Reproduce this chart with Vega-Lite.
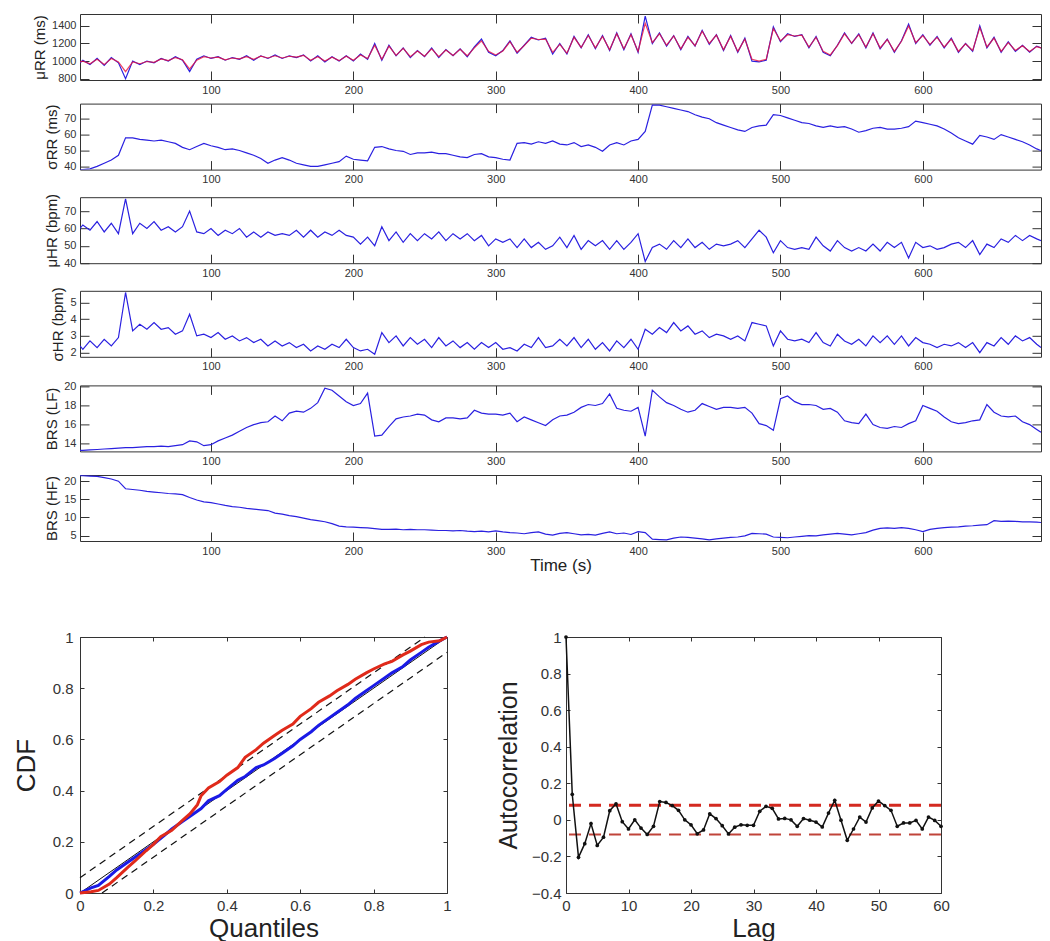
{
"$schema": "https://vega.github.io/schema/vega-lite/v6.json",
"padding": {"left": 12, "top": 13, "right": 2, "bottom": 0},
"background": "white",
"config": {
  "font": "Liberation Sans",
  "view": {"stroke": "#333", "strokeWidth": 1},
  "axis": {"domain": false, "grid": false, "tickSize": -9, "tickColor": "#333", "tickWidth": 1, "labelFontSize": 11, "labelColor": "#333", "labelPadding": 4, "labelFlush": false, "labelOverlap": false, "labelBound": false, "titleFontSize": 15, "titleFontWeight": "normal", "titleColor": "#222", "titlePadding": 4}
},
"datasets": {
"ts": [
{"t":8,"mb":980,"mr":990,"s":38,"h":60,"hs":2.4,"lf":13.3,"hf":21.5},
{"t":10,"mb":1010,"mr":1000,"s":38,"h":62,"hs":2.2,"lf":13.3,"hf":21.5},
{"t":15,"mb":960,"mr":970,"s":38.5,"h":59,"hs":2.7,"lf":13.35,"hf":21.4},
{"t":20,"mb":1030,"mr":1020,"s":40,"h":64,"hs":2.3,"lf":13.4,"hf":21.3},
{"t":25,"mb":950,"mr":960,"s":42,"h":58,"hs":2.8,"lf":13.45,"hf":21.0},
{"t":30,"mb":1040,"mr":1030,"s":44,"h":63,"hs":2.4,"lf":13.5,"hf":20.6},
{"t":35,"mb":980,"mr":990,"s":47,"h":57,"hs":2.9,"lf":13.55,"hf":20.0},
{"t":40,"mb":800,"mr":880,"s":58,"h":77,"hs":5.6,"lf":13.6,"hf":17.9},
{"t":45,"mb":1000,"mr":990,"s":58,"h":57,"hs":3.3,"lf":13.6,"hf":17.7},
{"t":50,"mb":960,"mr":970,"s":57,"h":63,"hs":3.7,"lf":13.65,"hf":17.5},
{"t":55,"mb":1000,"mr":995,"s":56.5,"h":60,"hs":3.4,"lf":13.7,"hf":17.2},
{"t":60,"mb":980,"mr":985,"s":56,"h":64,"hs":3.8,"lf":13.7,"hf":17.0},
{"t":65,"mb":1030,"mr":1025,"s":56.5,"h":59,"hs":3.4,"lf":13.75,"hf":16.8},
{"t":70,"mb":1000,"mr":1005,"s":55.5,"h":61,"hs":3.5,"lf":13.7,"hf":16.6},
{"t":75,"mb":1050,"mr":1040,"s":54.5,"h":58,"hs":3.1,"lf":13.8,"hf":16.5},
{"t":80,"mb":1010,"mr":1015,"s":52,"h":61,"hs":3.3,"lf":13.9,"hf":16.3},
{"t":85,"mb":880,"mr":910,"s":50.5,"h":70,"hs":4.3,"lf":14.3,"hf":15.5},
{"t":90,"mb":1020,"mr":1010,"s":52.5,"h":58,"hs":3.0,"lf":14.2,"hf":14.8},
{"t":95,"mb":1060,"mr":1050,"s":54.5,"h":57,"hs":3.1,"lf":13.8,"hf":14.3},
{"t":100,"mb":1030,"mr":1035,"s":53,"h":60,"hs":2.9,"lf":13.9,"hf":14.1},
{"t":105,"mb":1050,"mr":1045,"s":52,"h":56,"hs":3.2,"lf":14.3,"hf":13.7},
{"t":110,"mb":1010,"mr":1015,"s":50.5,"h":59,"hs":2.8,"lf":14.6,"hf":13.3},
{"t":115,"mb":1040,"mr":1035,"s":51,"h":57,"hs":3.0,"lf":14.9,"hf":13.0},
{"t":120,"mb":1020,"mr":1025,"s":50,"h":60,"hs":2.7,"lf":15.3,"hf":12.8},
{"t":125,"mb":1060,"mr":1050,"s":48.5,"h":55,"hs":2.9,"lf":15.7,"hf":12.5},
{"t":130,"mb":1010,"mr":1020,"s":47,"h":58,"hs":2.6,"lf":16.0,"hf":12.3},
{"t":135,"mb":1060,"mr":1055,"s":45,"h":55,"hs":2.8,"lf":16.2,"hf":12.1},
{"t":140,"mb":1030,"mr":1035,"s":42,"h":58,"hs":2.4,"lf":16.3,"hf":11.9},
{"t":145,"mb":1070,"mr":1060,"s":44,"h":56,"hs":2.7,"lf":16.9,"hf":11.2},
{"t":150,"mb":1030,"mr":1035,"s":45.5,"h":57,"hs":2.4,"lf":16.4,"hf":10.9},
{"t":155,"mb":1060,"mr":1055,"s":44,"h":56,"hs":2.6,"lf":17.2,"hf":10.5},
{"t":160,"mb":1040,"mr":1045,"s":42,"h":59,"hs":2.3,"lf":17.4,"hf":10.2},
{"t":165,"mb":1070,"mr":1065,"s":41,"h":55,"hs":2.5,"lf":17.3,"hf":9.8},
{"t":170,"mb":1000,"mr":1010,"s":40,"h":59,"hs":2.1,"lf":17.7,"hf":9.4},
{"t":175,"mb":1060,"mr":1050,"s":40,"h":55,"hs":2.4,"lf":18.3,"hf":9.1},
{"t":180,"mb":990,"mr":1000,"s":41,"h":58,"hs":2.2,"lf":19.8,"hf":8.8},
{"t":185,"mb":1050,"mr":1045,"s":42,"h":56,"hs":2.5,"lf":19.6,"hf":8.3},
{"t":190,"mb":1000,"mr":1005,"s":43,"h":59,"hs":2.3,"lf":19.0,"hf":7.6},
{"t":195,"mb":1060,"mr":1055,"s":46.5,"h":56,"hs":2.8,"lf":18.4,"hf":7.4},
{"t":200,"mb":1000,"mr":1010,"s":44.5,"h":55,"hs":2.3,"lf":18.0,"hf":7.3},
{"t":205,"mb":1080,"mr":1070,"s":44,"h":51,"hs":2.1,"lf":18.2,"hf":7.2},
{"t":210,"mb":1020,"mr":1030,"s":43.5,"h":55,"hs":2.2,"lf":19.3,"hf":7.1},
{"t":215,"mb":1200,"mr":1180,"s":52,"h":50,"hs":1.9,"lf":14.8,"hf":6.9},
{"t":220,"mb":1010,"mr":1020,"s":52.5,"h":61,"hs":3.2,"lf":14.9,"hf":6.7},
{"t":225,"mb":1180,"mr":1170,"s":51,"h":53,"hs":2.6,"lf":15.8,"hf":6.7},
{"t":230,"mb":1060,"mr":1065,"s":50,"h":58,"hs":3.0,"lf":16.6,"hf":6.8},
{"t":235,"mb":1150,"mr":1145,"s":49.5,"h":52,"hs":2.4,"lf":16.8,"hf":6.6},
{"t":240,"mb":1040,"mr":1050,"s":47.5,"h":57,"hs":2.9,"lf":16.9,"hf":6.7},
{"t":245,"mb":1120,"mr":1115,"s":48.5,"h":53,"hs":2.5,"lf":17.1,"hf":6.6},
{"t":250,"mb":1050,"mr":1055,"s":48.5,"h":57,"hs":2.8,"lf":17.0,"hf":6.6},
{"t":255,"mb":1150,"mr":1140,"s":49,"h":54,"hs":2.3,"lf":16.5,"hf":6.5},
{"t":260,"mb":1040,"mr":1050,"s":48,"h":58,"hs":2.9,"lf":16.3,"hf":6.4},
{"t":265,"mb":1130,"mr":1125,"s":48,"h":53,"hs":2.4,"lf":16.7,"hf":6.4},
{"t":270,"mb":1060,"mr":1065,"s":47,"h":57,"hs":2.7,"lf":16.7,"hf":6.3},
{"t":275,"mb":1140,"mr":1135,"s":46,"h":54,"hs":2.3,"lf":16.6,"hf":6.4},
{"t":280,"mb":1050,"mr":1060,"s":45.5,"h":57,"hs":2.6,"lf":16.7,"hf":6.2},
{"t":285,"mb":1160,"mr":1150,"s":47.5,"h":53,"hs":2.2,"lf":17.5,"hf":6.1},
{"t":290,"mb":1250,"mr":1230,"s":48,"h":56,"hs":2.6,"lf":17.2,"hf":6.2},
{"t":295,"mb":1100,"mr":1110,"s":46,"h":50,"hs":2.3,"lf":17.1,"hf":6.0},
{"t":300,"mb":1060,"mr":1070,"s":45.5,"h":54,"hs":2.6,"lf":17.1,"hf":6.3},
{"t":305,"mb":1120,"mr":1115,"s":44.5,"h":52,"hs":2.2,"lf":17.0,"hf":6.0},
{"t":310,"mb":1230,"mr":1220,"s":44,"h":54,"hs":2.3,"lf":17.2,"hf":5.8},
{"t":315,"mb":1090,"mr":1100,"s":54.5,"h":49,"hs":2.1,"lf":16.3,"hf":5.7},
{"t":320,"mb":1180,"mr":1175,"s":55,"h":54,"hs":2.5,"lf":16.8,"hf":5.5},
{"t":325,"mb":1270,"mr":1260,"s":54,"h":49,"hs":2.3,"lf":16.5,"hf":5.8},
{"t":330,"mb":1240,"mr":1245,"s":55.5,"h":52,"hs":2.9,"lf":16.2,"hf":6.0},
{"t":335,"mb":1260,"mr":1250,"s":54.5,"h":48,"hs":2.3,"lf":15.9,"hf":5.4},
{"t":340,"mb":1080,"mr":1100,"s":56,"h":50,"hs":2.4,"lf":16.5,"hf":5.1},
{"t":345,"mb":1200,"mr":1190,"s":54,"h":55,"hs":2.8,"lf":16.9,"hf":5.6},
{"t":350,"mb":1080,"mr":1090,"s":53.5,"h":49,"hs":2.4,"lf":17.0,"hf":5.8},
{"t":355,"mb":1280,"mr":1270,"s":55,"h":56,"hs":2.9,"lf":17.3,"hf":5.5},
{"t":360,"mb":1150,"mr":1155,"s":52.5,"h":48,"hs":2.3,"lf":17.8,"hf":5.2},
{"t":365,"mb":1300,"mr":1290,"s":53.5,"h":53,"hs":2.8,"lf":18.1,"hf":5.3},
{"t":370,"mb":1140,"mr":1150,"s":52,"h":50,"hs":2.2,"lf":18.0,"hf":5.1},
{"t":375,"mb":1290,"mr":1280,"s":49.5,"h":53,"hs":2.6,"lf":18.2,"hf":5.6},
{"t":380,"mb":1120,"mr":1130,"s":53.5,"h":48,"hs":2.1,"lf":19.2,"hf":6.0},
{"t":385,"mb":1320,"mr":1310,"s":55,"h":53,"hs":2.7,"lf":17.7,"hf":5.5},
{"t":390,"mb":1130,"mr":1140,"s":53.5,"h":48,"hs":2.3,"lf":17.5,"hf":5.7},
{"t":395,"mb":1310,"mr":1300,"s":56,"h":52,"hs":2.8,"lf":17.4,"hf":5.3},
{"t":400,"mb":1100,"mr":1110,"s":57,"h":57,"hs":2.2,"lf":17.8,"hf":6.1},
{"t":405,"mb":1510,"mr":1430,"s":62,"h":41,"hs":3.4,"lf":14.8,"hf":5.8},
{"t":410,"mb":1200,"mr":1210,"s":78.5,"h":49,"hs":3.1,"lf":19.6,"hf":4.0},
{"t":415,"mb":1320,"mr":1310,"s":78.5,"h":51,"hs":3.5,"lf":18.9,"hf":3.9},
{"t":420,"mb":1170,"mr":1180,"s":77.5,"h":48,"hs":3.2,"lf":18.3,"hf":3.8},
{"t":425,"mb":1290,"mr":1285,"s":76.5,"h":53,"hs":3.8,"lf":18.0,"hf":4.3},
{"t":430,"mb":1130,"mr":1140,"s":75.5,"h":49,"hs":3.3,"lf":17.6,"hf":4.6},
{"t":435,"mb":1280,"mr":1270,"s":74.5,"h":54,"hs":3.6,"lf":17.3,"hf":4.5},
{"t":440,"mb":1170,"mr":1175,"s":72.5,"h":49,"hs":3.1,"lf":17.5,"hf":4.3},
{"t":445,"mb":1350,"mr":1340,"s":71,"h":52,"hs":3.3,"lf":18.2,"hf":4.1},
{"t":450,"mb":1190,"mr":1200,"s":70,"h":48,"hs":2.9,"lf":17.9,"hf":3.8},
{"t":455,"mb":1300,"mr":1295,"s":67.5,"h":51,"hs":3.1,"lf":17.6,"hf":4.1},
{"t":460,"mb":1120,"mr":1130,"s":66,"h":50,"hs":3.0,"lf":17.8,"hf":4.3},
{"t":465,"mb":1290,"mr":1280,"s":64.5,"h":51,"hs":2.8,"lf":17.8,"hf":4.5},
{"t":470,"mb":1100,"mr":1110,"s":63,"h":53,"hs":3.0,"lf":17.7,"hf":4.6},
{"t":475,"mb":1260,"mr":1250,"s":62,"h":49,"hs":2.7,"lf":17.8,"hf":4.9},
{"t":480,"mb":1000,"mr":1020,"s":64.5,"h":54,"hs":3.8,"lf":17.2,"hf":5.6},
{"t":485,"mb":990,"mr":1000,"s":65.5,"h":59,"hs":3.7,"lf":16.1,"hf":5.5},
{"t":490,"mb":1010,"mr":1020,"s":66,"h":55,"hs":3.6,"lf":15.9,"hf":5.4},
{"t":495,"mb":1390,"mr":1370,"s":72.5,"h":46,"hs":2.4,"lf":15.4,"hf":4.6},
{"t":500,"mb":1220,"mr":1230,"s":72,"h":53,"hs":3.3,"lf":18.7,"hf":4.5},
{"t":505,"mb":1310,"mr":1300,"s":70.5,"h":49,"hs":2.8,"lf":19.0,"hf":4.4},
{"t":510,"mb":1280,"mr":1285,"s":69,"h":48,"hs":2.7,"lf":18.4,"hf":4.6},
{"t":515,"mb":1300,"mr":1295,"s":67.5,"h":49,"hs":2.8,"lf":18.1,"hf":4.8},
{"t":520,"mb":1150,"mr":1160,"s":67,"h":48,"hs":2.6,"lf":18.1,"hf":5.0},
{"t":525,"mb":1280,"mr":1270,"s":65.5,"h":55,"hs":3.2,"lf":18.0,"hf":4.9},
{"t":530,"mb":1100,"mr":1110,"s":64.5,"h":50,"hs":2.6,"lf":17.6,"hf":5.2},
{"t":535,"mb":1060,"mr":1070,"s":65.5,"h":47,"hs":2.4,"lf":17.7,"hf":5.4},
{"t":540,"mb":1180,"mr":1175,"s":64.5,"h":53,"hs":3.1,"lf":17.3,"hf":5.6},
{"t":545,"mb":1320,"mr":1310,"s":65,"h":49,"hs":2.7,"lf":16.4,"hf":5.4},
{"t":550,"mb":1200,"mr":1205,"s":63.5,"h":47,"hs":2.5,"lf":16.2,"hf":5.2},
{"t":555,"mb":1310,"mr":1300,"s":61.5,"h":49,"hs":2.8,"lf":16.1,"hf":5.5},
{"t":560,"mb":1150,"mr":1160,"s":62.5,"h":47,"hs":2.4,"lf":17.1,"hf":5.8},
{"t":565,"mb":1320,"mr":1310,"s":64,"h":51,"hs":3.0,"lf":16.0,"hf":6.5},
{"t":570,"mb":1140,"mr":1150,"s":64.5,"h":47,"hs":2.6,"lf":15.7,"hf":7.0},
{"t":575,"mb":1250,"mr":1245,"s":63.5,"h":52,"hs":3.0,"lf":15.6,"hf":7.1},
{"t":580,"mb":1100,"mr":1110,"s":63.5,"h":49,"hs":2.5,"lf":15.8,"hf":7.0},
{"t":585,"mb":1230,"mr":1225,"s":64,"h":52,"hs":3.0,"lf":15.7,"hf":7.2},
{"t":590,"mb":1420,"mr":1400,"s":65,"h":43,"hs":2.4,"lf":16.1,"hf":7.0},
{"t":595,"mb":1200,"mr":1210,"s":68.5,"h":52,"hs":2.9,"lf":16.4,"hf":6.6},
{"t":600,"mb":1300,"mr":1290,"s":67.5,"h":49,"hs":2.6,"lf":18.0,"hf":6.1},
{"t":605,"mb":1180,"mr":1190,"s":66.5,"h":50,"hs":2.5,"lf":17.7,"hf":6.7},
{"t":610,"mb":1280,"mr":1270,"s":65.5,"h":48,"hs":2.3,"lf":17.4,"hf":7.0},
{"t":615,"mb":1150,"mr":1160,"s":63.5,"h":49,"hs":2.5,"lf":16.8,"hf":7.2},
{"t":620,"mb":1260,"mr":1250,"s":61,"h":51,"hs":2.4,"lf":16.3,"hf":7.3},
{"t":625,"mb":1100,"mr":1110,"s":58,"h":52,"hs":2.6,"lf":16.1,"hf":7.4},
{"t":630,"mb":1200,"mr":1195,"s":56,"h":49,"hs":2.3,"lf":16.2,"hf":7.6},
{"t":635,"mb":1110,"mr":1120,"s":54,"h":53,"hs":2.6,"lf":16.4,"hf":7.7},
{"t":640,"mb":1400,"mr":1380,"s":59.5,"h":45,"hs":2.0,"lf":16.5,"hf":7.9},
{"t":645,"mb":1150,"mr":1160,"s":58.5,"h":51,"hs":2.6,"lf":18.1,"hf":8.0},
{"t":650,"mb":1270,"mr":1260,"s":57,"h":49,"hs":2.4,"lf":17.3,"hf":9.1},
{"t":655,"mb":1100,"mr":1110,"s":60,"h":54,"hs":2.9,"lf":16.9,"hf":8.9},
{"t":660,"mb":1220,"mr":1210,"s":58.5,"h":52,"hs":2.5,"lf":16.8,"hf":9.0},
{"t":665,"mb":1110,"mr":1120,"s":57,"h":56,"hs":3.0,"lf":16.9,"hf":8.9},
{"t":670,"mb":1180,"mr":1175,"s":55.5,"h":53,"hs":2.7,"lf":16.3,"hf":8.8},
{"t":675,"mb":1100,"mr":1110,"s":53.5,"h":56,"hs":2.9,"lf":16.0,"hf":8.8},
{"t":680,"mb":1170,"mr":1165,"s":51,"h":54,"hs":2.5,"lf":15.5,"hf":8.7},
{"t":683,"mb":1150,"mr":1150,"s":50,"h":53,"hs":2.3,"lf":15.2,"hf":8.6}
],
"ks": [
{"x":0,"y":0,"g":"d"},{"x":1,"y":1,"g":"d"},
{"x":0,"y":0.06,"g":"u"},{"x":0.94,"y":1,"g":"u"},
{"x":0.06,"y":0,"g":"l"},{"x":1,"y":0.94,"g":"l"},
{"x":0,"y":0,"g":"b"},{"x":0.03,"y":0.02,"g":"b"},{"x":0.05,"y":0.03,"g":"b"},{"x":0.08,"y":0.065,"g":"b"},{"x":0.1,"y":0.09,"g":"b"},{"x":0.13,"y":0.12,"g":"b"},{"x":0.15,"y":0.14,"g":"b"},{"x":0.18,"y":0.17,"g":"b"},{"x":0.2,"y":0.19,"g":"b"},{"x":0.23,"y":0.225,"g":"b"},{"x":0.25,"y":0.25,"g":"b"},{"x":0.28,"y":0.28,"g":"b"},{"x":0.3,"y":0.3,"g":"b"},{"x":0.33,"y":0.33,"g":"b"},{"x":0.35,"y":0.36,"g":"b"},{"x":0.38,"y":0.38,"g":"b"},{"x":0.4,"y":0.405,"g":"b"},{"x":0.43,"y":0.44,"g":"b"},{"x":0.45,"y":0.455,"g":"b"},{"x":0.48,"y":0.49,"g":"b"},{"x":0.5,"y":0.5,"g":"b"},{"x":0.53,"y":0.525,"g":"b"},{"x":0.55,"y":0.545,"g":"b"},{"x":0.58,"y":0.575,"g":"b"},{"x":0.6,"y":0.6,"g":"b"},{"x":0.63,"y":0.63,"g":"b"},{"x":0.65,"y":0.655,"g":"b"},{"x":0.68,"y":0.685,"g":"b"},{"x":0.7,"y":0.705,"g":"b"},{"x":0.73,"y":0.735,"g":"b"},{"x":0.75,"y":0.76,"g":"b"},{"x":0.78,"y":0.79,"g":"b"},{"x":0.8,"y":0.81,"g":"b"},{"x":0.83,"y":0.84,"g":"b"},{"x":0.85,"y":0.86,"g":"b"},{"x":0.88,"y":0.885,"g":"b"},{"x":0.9,"y":0.91,"g":"b"},{"x":0.93,"y":0.94,"g":"b"},{"x":0.95,"y":0.96,"g":"b"},{"x":0.98,"y":0.985,"g":"b"},{"x":1,"y":1,"g":"b"},
{"x":0,"y":0,"g":"r"},{"x":0.03,"y":0.005,"g":"r"},{"x":0.05,"y":0.01,"g":"r"},{"x":0.08,"y":0.035,"g":"r"},{"x":0.1,"y":0.06,"g":"r"},{"x":0.13,"y":0.1,"g":"r"},{"x":0.15,"y":0.125,"g":"r"},{"x":0.18,"y":0.165,"g":"r"},{"x":0.2,"y":0.19,"g":"r"},{"x":0.22,"y":0.22,"g":"r"},{"x":0.25,"y":0.245,"g":"r"},{"x":0.28,"y":0.285,"g":"r"},{"x":0.3,"y":0.31,"g":"r"},{"x":0.32,"y":0.345,"g":"r"},{"x":0.33,"y":0.38,"g":"r"},{"x":0.35,"y":0.41,"g":"r"},{"x":0.38,"y":0.435,"g":"r"},{"x":0.4,"y":0.46,"g":"r"},{"x":0.43,"y":0.49,"g":"r"},{"x":0.45,"y":0.53,"g":"r"},{"x":0.48,"y":0.56,"g":"r"},{"x":0.5,"y":0.585,"g":"r"},{"x":0.53,"y":0.615,"g":"r"},{"x":0.55,"y":0.635,"g":"r"},{"x":0.58,"y":0.66,"g":"r"},{"x":0.6,"y":0.69,"g":"r"},{"x":0.63,"y":0.72,"g":"r"},{"x":0.65,"y":0.745,"g":"r"},{"x":0.68,"y":0.77,"g":"r"},{"x":0.7,"y":0.79,"g":"r"},{"x":0.73,"y":0.815,"g":"r"},{"x":0.75,"y":0.835,"g":"r"},{"x":0.78,"y":0.86,"g":"r"},{"x":0.8,"y":0.875,"g":"r"},{"x":0.83,"y":0.895,"g":"r"},{"x":0.85,"y":0.905,"g":"r"},{"x":0.88,"y":0.93,"g":"r"},{"x":0.9,"y":0.945,"g":"r"},{"x":0.93,"y":0.97,"g":"r"},{"x":0.95,"y":0.98,"g":"r"},{"x":0.98,"y":0.985,"g":"r"},{"x":1,"y":1,"g":"r"}
],
"acf": [
{"lag":0,"r":1.0},{"lag":1,"r":0.14},{"lag":2,"r":-0.205},{"lag":3,"r":-0.13},{"lag":4,"r":-0.02},{"lag":5,"r":-0.14},{"lag":6,"r":-0.095},{"lag":7,"r":0.05},{"lag":8,"r":0.088},{"lag":9,"r":-0.01},{"lag":10,"r":-0.05},{"lag":11,"r":0.0},{"lag":12,"r":-0.045},{"lag":13,"r":-0.08},{"lag":14,"r":-0.035},{"lag":15,"r":0.1},{"lag":16,"r":0.095},{"lag":17,"r":0.078},{"lag":18,"r":0.052},{"lag":19,"r":0.0},{"lag":20,"r":-0.027},{"lag":21,"r":-0.076},{"lag":22,"r":-0.055},{"lag":23,"r":0.033},{"lag":24,"r":0.007},{"lag":25,"r":-0.032},{"lag":26,"r":-0.077},{"lag":27,"r":-0.04},{"lag":28,"r":-0.027},{"lag":29,"r":-0.03},{"lag":30,"r":-0.03},{"lag":31,"r":0.047},{"lag":32,"r":0.074},{"lag":33,"r":0.063},{"lag":34,"r":0.005},{"lag":35,"r":0.008},{"lag":36,"r":0.0},{"lag":37,"r":-0.035},{"lag":38,"r":0.007},{"lag":39,"r":-0.002},{"lag":40,"r":-0.012},{"lag":41,"r":-0.039},{"lag":42,"r":0.037},{"lag":43,"r":0.107},{"lag":44,"r":-0.002},{"lag":45,"r":-0.112},{"lag":46,"r":-0.05},{"lag":47,"r":0.015},{"lag":48,"r":-0.012},{"lag":49,"r":0.065},{"lag":50,"r":0.103},{"lag":51,"r":0.078},{"lag":52,"r":0.052},{"lag":53,"r":-0.035},{"lag":54,"r":-0.017},{"lag":55,"r":-0.017},{"lag":56,"r":-0.003},{"lag":57,"r":-0.05},{"lag":58,"r":0.015},{"lag":59,"r":-0.003},{"lag":60,"r":-0.035}
],
"bounds": [{"b":0.08,"k":"upper"},{"b":-0.08,"k":"lower"}]
},
"align": "each",
"spacing": 55,
"vconcat": [
{
"align": "each",
"spacing": 6.6,
"vconcat": [
{"width": 961, "height": 66, "data": {"name": "ts"}, "resolve": {"axis": {"x": "independent", "y": "independent"}},
 "layer": [
  {"mark": {"type": "line", "color": "#2a20e0", "strokeWidth": 1.2, "clip": true},
   "encoding": {"x": {"field": "t", "type": "quantitative", "scale": {"domain": [8, 683], "nice": false, "zero": false}, "axis": {"values": [100,200,300,400,500,600], "format": "d", "ticks": false, "title": null}},
                "y": {"field": "mb", "type": "quantitative", "scale": {"domain": [785, 1535], "nice": false, "zero": false}, "axis": {"values": [800,1000,1200,1400], "format": "d", "ticks": false, "title": "μRR (ms)"}}}},
  {"mark": {"type": "line", "color": "#e8103c", "strokeWidth": 1.2, "clip": true, "opacity": 0.8},
   "encoding": {"x": {"field": "t", "type": "quantitative", "scale": {"domain": [8, 683], "nice": false, "zero": false}, "axis": {"orient": "top", "values": [100,200,300,400,500,600], "labels": false, "title": null}},
                "y": {"field": "mr", "type": "quantitative", "scale": {"domain": [785, 1535], "nice": false, "zero": false}, "axis": {"orient": "right", "values": [800,1000,1200,1400], "labels": false, "title": null}}}},
  {"mark": {"type": "line", "opacity": 0, "clip": true},
   "encoding": {"x": {"field": "t", "type": "quantitative", "axis": {"values": [100,200,300,400,500,600], "labels": false, "title": null}},
                "y": {"field": "mb", "type": "quantitative", "axis": {"values": [800,1000,1200,1400], "labels": false, "title": null}}}}
 ]},
{"width": 961, "height": 66, "data": {"name": "ts"}, "resolve": {"axis": {"x": "independent", "y": "independent"}},
 "layer": [
  {"mark": {"type": "line", "color": "#2a20e0", "strokeWidth": 1.2, "clip": true},
   "encoding": {"x": {"field": "t", "type": "quantitative", "scale": {"domain": [8, 683], "nice": false, "zero": false}, "axis": {"values": [100,200,300,400,500,600], "format": "d", "ticks": false, "title": null}},
                "y": {"field": "s", "type": "quantitative", "scale": {"domain": [38, 79.5], "nice": false, "zero": false}, "axis": {"values": [40,50,60,70], "format": "d", "ticks": false, "title": "σRR (ms)"}}}},
  {"mark": {"type": "line", "opacity": 0, "clip": true},
   "encoding": {"x": {"field": "t", "type": "quantitative", "axis": {"orient": "top", "values": [100,200,300,400,500,600], "labels": false, "title": null}},
                "y": {"field": "s", "type": "quantitative", "axis": {"orient": "right", "values": [40,50,60,70], "labels": false, "title": null}}}},
  {"mark": {"type": "line", "opacity": 0, "clip": true},
   "encoding": {"x": {"field": "t", "type": "quantitative", "axis": {"values": [100,200,300,400,500,600], "labels": false, "title": null}},
                "y": {"field": "s", "type": "quantitative", "axis": {"values": [40,50,60,70], "labels": false, "title": null}}}}
 ]},
{"width": 961, "height": 66, "data": {"name": "ts"}, "resolve": {"axis": {"x": "independent", "y": "independent"}},
 "layer": [
  {"mark": {"type": "line", "color": "#2a20e0", "strokeWidth": 1.2, "clip": true},
   "encoding": {"x": {"field": "t", "type": "quantitative", "scale": {"domain": [8, 683], "nice": false, "zero": false}, "axis": {"values": [100,200,300,400,500,600], "format": "d", "ticks": false, "title": null}},
                "y": {"field": "h", "type": "quantitative", "scale": {"domain": [40, 78], "nice": false, "zero": false}, "axis": {"values": [40,50,60,70], "format": "d", "ticks": false, "title": "μHR (bpm)"}}}},
  {"mark": {"type": "line", "opacity": 0, "clip": true},
   "encoding": {"x": {"field": "t", "type": "quantitative", "axis": {"orient": "top", "values": [100,200,300,400,500,600], "labels": false, "title": null}},
                "y": {"field": "h", "type": "quantitative", "axis": {"orient": "right", "values": [40,50,60,70], "labels": false, "title": null}}}},
  {"mark": {"type": "line", "opacity": 0, "clip": true},
   "encoding": {"x": {"field": "t", "type": "quantitative", "axis": {"values": [100,200,300,400,500,600], "labels": false, "title": null}},
                "y": {"field": "h", "type": "quantitative", "axis": {"values": [40,50,60,70], "labels": false, "title": null}}}}
 ]},
{"width": 961, "height": 66, "data": {"name": "ts"}, "resolve": {"axis": {"x": "independent", "y": "independent"}},
 "layer": [
  {"mark": {"type": "line", "color": "#2a20e0", "strokeWidth": 1.2, "clip": true},
   "encoding": {"x": {"field": "t", "type": "quantitative", "scale": {"domain": [8, 683], "nice": false, "zero": false}, "axis": {"values": [100,200,300,400,500,600], "format": "d", "ticks": false, "title": null}},
                "y": {"field": "hs", "type": "quantitative", "scale": {"domain": [1.75, 5.7], "nice": false, "zero": false}, "axis": {"values": [2,3,4,5], "format": "d", "ticks": false, "title": "σHR (bpm)"}}}},
  {"mark": {"type": "line", "opacity": 0, "clip": true},
   "encoding": {"x": {"field": "t", "type": "quantitative", "axis": {"orient": "top", "values": [100,200,300,400,500,600], "labels": false, "title": null}},
                "y": {"field": "hs", "type": "quantitative", "axis": {"orient": "right", "values": [2,3,4,5], "labels": false, "title": null}}}},
  {"mark": {"type": "line", "opacity": 0, "clip": true},
   "encoding": {"x": {"field": "t", "type": "quantitative", "axis": {"values": [100,200,300,400,500,600], "labels": false, "title": null}},
                "y": {"field": "hs", "type": "quantitative", "axis": {"values": [2,3,4,5], "labels": false, "title": null}}}}
 ]},
{"width": 961, "height": 66, "data": {"name": "ts"}, "resolve": {"axis": {"x": "independent", "y": "independent"}},
 "layer": [
  {"mark": {"type": "line", "color": "#2a20e0", "strokeWidth": 1.2, "clip": true},
   "encoding": {"x": {"field": "t", "type": "quantitative", "scale": {"domain": [8, 683], "nice": false, "zero": false}, "axis": {"values": [100,200,300,400,500,600], "format": "d", "ticks": false, "title": null}},
                "y": {"field": "lf", "type": "quantitative", "scale": {"domain": [13.2, 20.1], "nice": false, "zero": false}, "axis": {"values": [14,16,18,20], "format": "d", "ticks": false, "title": "BRS (LF)"}}}},
  {"mark": {"type": "line", "opacity": 0, "clip": true},
   "encoding": {"x": {"field": "t", "type": "quantitative", "axis": {"orient": "top", "values": [100,200,300,400,500,600], "labels": false, "title": null}},
                "y": {"field": "lf", "type": "quantitative", "axis": {"orient": "right", "values": [14,16,18,20], "labels": false, "title": null}}}},
  {"mark": {"type": "line", "opacity": 0, "clip": true},
   "encoding": {"x": {"field": "t", "type": "quantitative", "axis": {"values": [100,200,300,400,500,600], "labels": false, "title": null}},
                "y": {"field": "lf", "type": "quantitative", "axis": {"values": [14,16,18,20], "labels": false, "title": null}}}}
 ]},
{"width": 961, "height": 66, "data": {"name": "ts"}, "resolve": {"axis": {"x": "independent", "y": "independent"}},
 "layer": [
  {"mark": {"type": "line", "color": "#2a20e0", "strokeWidth": 1.2, "clip": true},
   "encoding": {"x": {"field": "t", "type": "quantitative", "scale": {"domain": [8, 683], "nice": false, "zero": false}, "axis": {"values": [100,200,300,400,500,600], "format": "d", "ticks": false, "title": "Time (s)", "titleFontSize": 17, "titlePadding": 1}},
                "y": {"field": "hf", "type": "quantitative", "scale": {"domain": [3.5, 21.7], "nice": false, "zero": false}, "axis": {"values": [5,10,15,20], "format": "d", "ticks": false, "title": "BRS (HF)"}}}},
  {"mark": {"type": "line", "opacity": 0, "clip": true},
   "encoding": {"x": {"field": "t", "type": "quantitative", "axis": {"orient": "top", "values": [100,200,300,400,500,600], "labels": false, "title": null}},
                "y": {"field": "hf", "type": "quantitative", "axis": {"orient": "right", "values": [5,10,15,20], "labels": false, "title": null}}}},
  {"mark": {"type": "line", "opacity": 0, "clip": true},
   "encoding": {"x": {"field": "t", "type": "quantitative", "axis": {"values": [100,200,300,400,500,600], "labels": false, "title": null}},
                "y": {"field": "hf", "type": "quantitative", "axis": {"values": [5,10,15,20], "labels": false, "title": null}}}}
 ]}
]
},
{
"align": "each",
"spacing": 41,
"hconcat": [
{"width": 367, "height": 256, "data": {"name": "ks"}, "resolve": {"axis": {"x": "independent", "y": "independent"}},
 "layer": [
  {"transform": [{"filter": "datum.g === 'd'"}],
   "mark": {"type": "line", "color": "#111", "strokeWidth": 1},
   "encoding": {"x": {"field": "x", "type": "quantitative", "scale": {"domain": [0, 1], "nice": false}, "axis": {"values": [0,0.2,0.4,0.6,0.8,1], "format": "~g", "ticks": false, "title": "Quantiles", "titleFontSize": 26, "labelFontSize": 15, "labelPadding": 5, "titlePadding": 2}},
                "y": {"field": "y", "type": "quantitative", "scale": {"domain": [0, 1], "nice": false}, "axis": {"values": [0,0.2,0.4,0.6,0.8,1], "format": "~g", "ticks": false, "title": "CDF", "titleFontSize": 26, "labelFontSize": 15, "labelPadding": 7, "titlePadding": 13}}}},
  {"transform": [{"filter": "datum.g === 'u' || datum.g === 'l'"}],
   "mark": {"type": "line", "color": "#111", "strokeWidth": 1.2, "strokeDash": [7, 5]},
   "encoding": {"x": {"field": "x", "type": "quantitative", "axis": {"orient": "top", "values": [0,0.2,0.4,0.6,0.8,1], "labels": false, "title": null, "tickSize": -4}},
                "y": {"field": "y", "type": "quantitative", "axis": {"orient": "right", "values": [0,0.2,0.4,0.6,0.8,1], "labels": false, "title": null, "tickSize": -4}},
                "detail": {"field": "g", "type": "nominal"}}},
  {"transform": [{"filter": "datum.g === 'b'"}],
   "mark": {"type": "line", "color": "#1a1ae6", "strokeWidth": 3},
   "encoding": {"x": {"field": "x", "type": "quantitative", "axis": {"values": [0,0.2,0.4,0.6,0.8,1], "labels": false, "title": null, "tickSize": -4}},
                "y": {"field": "y", "type": "quantitative", "axis": {"values": [0,0.2,0.4,0.6,0.8,1], "labels": false, "title": null, "tickSize": -4}}}},
  {"transform": [{"filter": "datum.g === 'r'"}],
   "mark": {"type": "line", "color": "#e02a1a", "strokeWidth": 3},
   "encoding": {"x": {"field": "x", "type": "quantitative", "axis": null}, "y": {"field": "y", "type": "quantitative", "axis": null}}}
 ]},
{"width": 375, "height": 256, "resolve": {"axis": {"x": "independent", "y": "independent"}},
 "layer": [
  {"data": {"name": "bounds"}, "transform": [{"filter": "datum.k === 'upper'"}],
   "mark": {"type": "rule", "color": "#d42a20", "strokeWidth": 3, "strokeDash": [12, 8]},
   "encoding": {"y": {"field": "b", "type": "quantitative", "scale": {"domain": [-0.4, 1], "nice": false}, "axis": {"orient": "right", "values": [-0.4,-0.2,0,0.2,0.4,0.6,0.8,1], "labels": false, "title": null, "tickSize": -4}}}},
  {"data": {"name": "bounds"}, "transform": [{"filter": "datum.k === 'lower'"}],
   "mark": {"type": "rule", "color": "#c0443a", "strokeWidth": 2, "strokeDash": [12, 8]},
   "encoding": {"y": {"field": "b", "type": "quantitative", "axis": null}}},
  {"data": {"name": "acf"},
   "mark": {"type": "line", "color": "#111", "strokeWidth": 1.5, "point": {"filled": true, "color": "#111", "size": 14}},
   "encoding": {"x": {"field": "lag", "type": "quantitative", "scale": {"domain": [0, 60], "nice": false}, "axis": {"values": [0,10,20,30,40,50,60], "format": "d", "ticks": false, "title": "Lag", "titleFontSize": 26, "labelFontSize": 15, "labelPadding": 5, "titlePadding": 2}},
                "y": {"field": "r", "type": "quantitative", "scale": {"domain": [-0.4, 1], "nice": false}, "axis": {"values": [-0.4,-0.2,0,0.2,0.4,0.6,0.8,1], "format": "~g", "ticks": false, "title": "Autocorrelation", "titleFontSize": 25, "labelFontSize": 15, "labelPadding": 5, "titlePadding": 10}}}},
  {"data": {"name": "acf"}, "mark": {"type": "point", "opacity": 0},
   "encoding": {"x": {"field": "lag", "type": "quantitative", "axis": {"orient": "top", "values": [0,10,20,30,40,50,60], "labels": false, "title": null, "tickSize": -4}},
                "y": {"field": "r", "type": "quantitative", "axis": null}}},
  {"data": {"name": "acf"}, "mark": {"type": "point", "opacity": 0},
   "encoding": {"x": {"field": "lag", "type": "quantitative", "axis": {"values": [0,10,20,30,40,50,60], "labels": false, "title": null, "tickSize": -4}},
                "y": {"field": "r", "type": "quantitative", "axis": {"values": [-0.4,-0.2,0,0.2,0.4,0.6,0.8,1], "labels": false, "title": null, "tickSize": -4}}}}
 ]}
]
}
]
}
